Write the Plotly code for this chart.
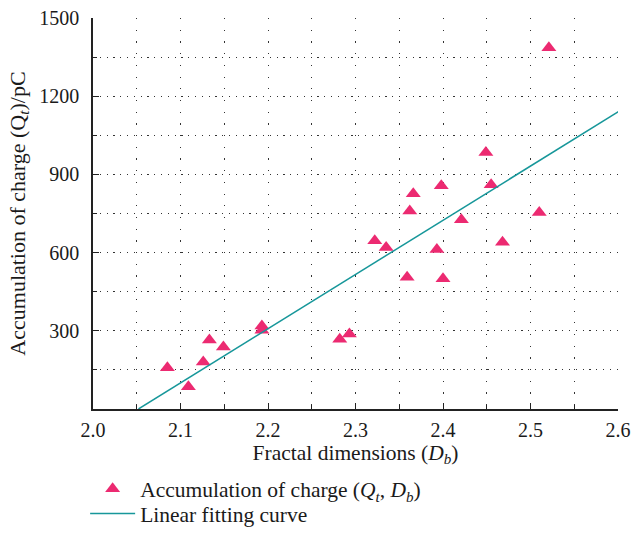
import plotly.graph_objects as go

# Data
fractal_dim = [2.085, 2.109, 2.126, 2.133, 2.149, 2.193, 2.193, 2.282, 2.293, 2.322,
               2.335, 2.359, 2.362, 2.366, 2.393, 2.398, 2.400, 2.421, 2.449, 2.455,
               2.468, 2.510, 2.521]
charge = [158, 85, 180, 265, 238, 318, 302, 268, 288, 645,
          620, 505, 760, 826, 612, 856, 500, 726, 984, 860,
          640, 754, 1386]

fit_slope = 2080.0
fit_intercept = -4268.0
fit_x = [2.052, 2.605]
fit_y = [fit_intercept + fit_slope * v for v in fit_x]

x_ticks = [2.0, 2.1, 2.2, 2.3, 2.4, 2.5, 2.6]
x_tick_text = ["2.0", "2.1", "2.2", "2.3", "2.4", "2.5", "2.6"]
y_ticks = [0, 300, 600, 900, 1200, 1500]
y_tick_text = ["", "300", "600", "900", "1200", "1500"]
x_grid = [2.05, 2.10, 2.15, 2.20, 2.25, 2.30, 2.35, 2.40, 2.45, 2.50, 2.55]
y_grid = [150, 300, 450, 600, 750, 900, 1050, 1200, 1350]

FONT = "Liberation Serif"
PINK = "#EC2A71"
TEAL = "#17979A"
TXT = "#1a1a1a"

fig = go.Figure()
fig.add_trace(go.Scatter(
    x=fractal_dim, y=charge, mode="markers",
    name="Accumulation of charge (<i>Q</i><sub><i>t</i></sub>, <i>D</i><sub><i>b</i></sub>)",
    marker=dict(symbol="triangle-up", size=13, color=PINK), legend="legend",
))
fig.add_trace(go.Scatter(
    x=fit_x, y=fit_y, mode="lines", name="Linear fitting curve",
    line=dict(color=TEAL, width=1.5), cliponaxis=False, legend="legend2",
))
# invisible trace to activate overlay grid axes
fig.add_trace(go.Scatter(x=[2.0], y=[0], xaxis="x2", yaxis="y2", mode="markers",
                         marker=dict(opacity=0), showlegend=False, hoverinfo="skip"))

legend_common = dict(x=-0.015, xanchor="left",
                     bgcolor="rgba(0,0,0,0)", itemwidth=45,
                     font=dict(family=FONT, size=21.5, color=TXT))

fig.update_layout(
    width=644, height=534,
    margin=dict(l=93, r=26, t=18, b=125, autoexpand=False),
    paper_bgcolor="white", plot_bgcolor="white",
    font=dict(family=FONT, size=20, color=TXT),
    showlegend=True,
    legend=dict(y=-0.204, yanchor="middle", **legend_common),
    legend2=dict(y=-0.3197, yanchor="bottom", **legend_common),
    xaxis=dict(
        range=[2.0, 2.6], tickvals=x_ticks, ticktext=x_tick_text,
        tickfont=dict(family=FONT, size=20, color=TXT),
        showline=True, linecolor="#222", linewidth=1.5,
        ticks="inside", ticklen=6, tickwidth=1.2, tickcolor="#222",
        minor=dict(dtick=0.05, tick0=2.0, ticks="inside", ticklen=4, tickcolor="#222", showgrid=False),
        showgrid=False, zeroline=False, ticklabelstandoff=2,
        title=dict(text="Fractal dimensions (<i>D</i><sub><i>b</i></sub>)", standoff=2,
                   font=dict(family=FONT, size=21.5, color=TXT)),
    ),
    yaxis=dict(
        range=[0, 1500], tickvals=y_ticks, ticktext=y_tick_text,
        tickfont=dict(family=FONT, size=20, color=TXT),
        showline=True, linecolor="#222", linewidth=1.5,
        ticks="inside", ticklen=6, tickwidth=1.2, tickcolor="#222",
        minor=dict(dtick=150, tick0=0, ticks="inside", ticklen=4, tickcolor="#222", showgrid=False),
        showgrid=False, zeroline=False, ticklabelstandoff=8,
        title=dict(text="Accumulation of charge (Q<sub><i>t</i></sub>)/pC", standoff=8,
                   font=dict(family=FONT, size=22, color=TXT)),
    ),
    xaxis2=dict(range=[2.0, 2.6], overlaying="x", tickvals=x_grid, showticklabels=False,
                showgrid=True, gridcolor="#333", gridwidth=1, griddash="1.2px,10.5px",
                zeroline=False, showline=False, ticks=""),
    yaxis2=dict(range=[0, 1500], overlaying="y", tickvals=y_grid, showticklabels=False,
                showgrid=True, gridcolor="#333", gridwidth=1, griddash="1.2px,5.6px",
                zeroline=False, showline=False, ticks=""),
)

fig.write_html("out.html")
